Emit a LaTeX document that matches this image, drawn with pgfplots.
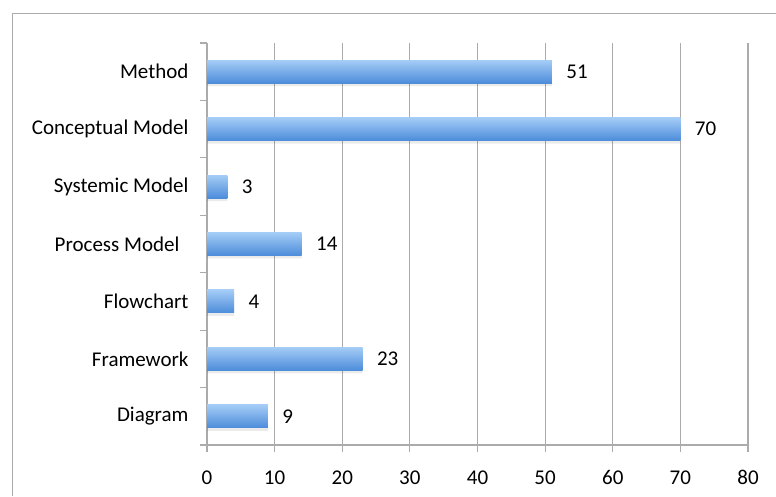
\documentclass[border=0pt]{standalone}
\usepackage{pgfplots}
\pgfplotsset{compat=1.18}
\usepackage{fontspec}
\setmainfont{Carlito}
\definecolor{gridgray}{HTML}{ABABAB}
\definecolor{bartop}{HTML}{A4CCF6}
\definecolor{barmid}{HTML}{78AEEA}
\definecolor{barbot}{HTML}{4C8CDA}

\pgfplotsset{
  shadowbar/.style={draw=none, fill=black, fill opacity=0.08, bar shift=-3pt},
  bluebar/.style={draw=none, bar shift=0pt, top color=bartop, middle color=barmid, bottom color=barbot,
    nodes near coords, nodes near coords style={font=\fontsize{21}{23}\selectfont, text=black, anchor=west, xshift=11pt}},
}

\begin{document}
\begin{tikzpicture}[x=1pt,y=1pt]
% outer chart frame (top and left edges)
\draw[gridgray, line width=1pt] (12,-496) -- (12,-13) -- (776,-13);
\begin{axis}[
  at={(207pt,-445pt)}, anchor=south west,
  scale only axis, width=541pt, height=402pt,
  xbar, bar width=0.40,
  xmin=0, xmax=80,
  ymin=-0.5, ymax=6.5,
  xtick={0,10,...,80},
  ytick={0,1,2,3,4,5,6},
  yticklabels={Diagram,Framework,Flowchart,{Process Model\kern9pt},Systemic Model,Conceptual Model,Method},
  minor ytick={-0.5,0.5,...,6.5},
  major y tick style={draw=none},
  minor tick length=7pt,
  major tick length=7pt,
  tick align=outside,
  axis x line*=bottom, axis y line*=left,
  axis line style={gridgray, line width=1.2pt, -},
  every tick/.style={gridgray, line width=1.2pt},
  xmajorgrids, major grid style={gridgray, line width=1.2pt},
  tick label style={font=\fontsize{21}{23}\selectfont, text=black},
  xticklabel style={yshift=-15pt},
  yticklabel style={xshift=-8pt},
  /pgf/number format/assume math mode=true,
  clip=false,
]
% soft shadow under the bars
\addplot[shadowbar] coordinates {(9,0) (23,1) (4,2) (14,3) (3,4) (70,5) (51,6)};
% one plot per bar so that each bar carries its own gradient
\addplot[bluebar] coordinates {(9,0)};
\addplot[bluebar] coordinates {(23,1)};
\addplot[bluebar] coordinates {(4,2)};
\addplot[bluebar] coordinates {(14,3)};
\addplot[bluebar] coordinates {(3,4)};
\addplot[bluebar] coordinates {(70,5)};
\addplot[bluebar] coordinates {(51,6)};
\end{axis}
\pgfresetboundingbox
\path (0,0) rectangle (776,-496);
\end{tikzpicture}
\end{document}
